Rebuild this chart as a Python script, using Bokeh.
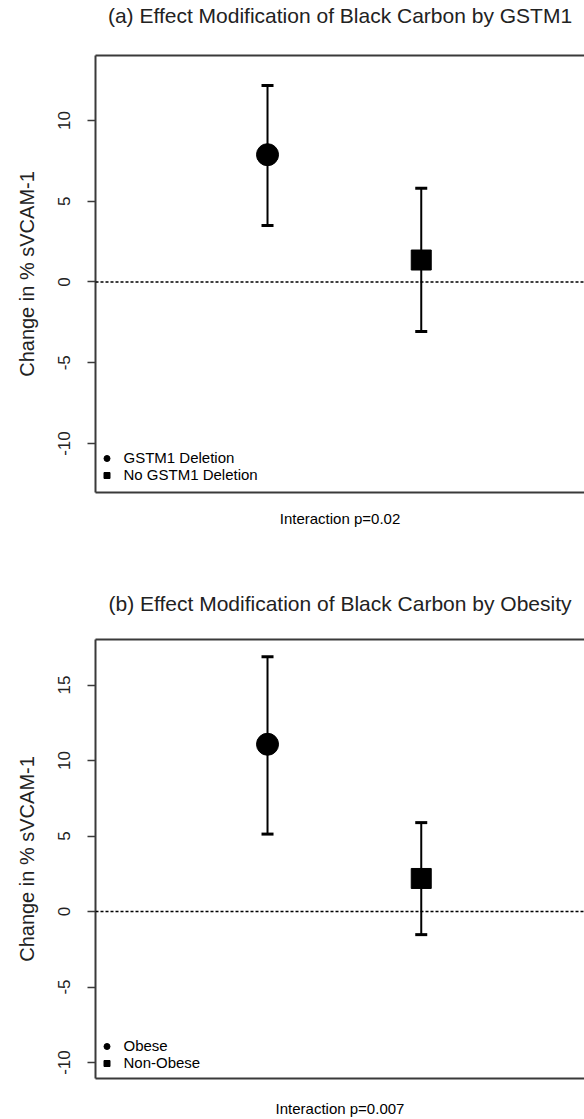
from bokeh.plotting import figure
from bokeh.models import (ColumnDataSource, Whisker, TeeHead, Span, LinearAxis,
                          FixedTicker, Range1d)
from bokeh.layouts import column
from bokeh.embed import file_html
from bokeh.resources import INLINE

# ---- data ----
xpos = [1, 2]
ylabel = "Change in % sVCAM-1"

title_a = "(a) Effect Modification of Black Carbon by GSTM1"
groups_a = ["GSTM1 Deletion", "No GSTM1 Deletion"]
est_a = [7.88, 1.36]
lower_a = [3.5, -3.07]
upper_a = [12.17, 5.81]
pval_a = "Interaction p=0.02"
yticks_a = [-10, -5, 0, 5, 10]

title_b = "(b) Effect Modification of Black Carbon by Obesity"
groups_b = ["Obese", "Non-Obese"]
est_b = [11.08, 2.19]
lower_b = [5.13, -1.53]
upper_b = [16.87, 5.89]
pval_b = "Interaction p=0.007"
yticks_b = [-10, -5, 0, 5, 10, 15]

# ---- styles ----
markers = ["circle", "square"]
msizes = [22, 20]
FONT = "Liberation Sans"
BOX = "#3a3a3a"
TXT = "#222222"


def make_panel(title, groups, est, lower, upper, pval, yticks, yr, height,
               top, bottom, title_gap, label_standoff, legend_y):
    p = figure(width=584, height=height,
               x_range=Range1d(-0.119, 3.062), y_range=Range1d(*yr),
               output_backend="svg", toolbar_location=None,
               x_axis_location=None, y_axis_location=None,
               min_border_left=95, min_border_right=0,
               min_border_top=top, min_border_bottom=bottom)
    p.outline_line_color = None
    p.outline_line_alpha = 0
    p.grid.visible = False
    p.background_fill_color = "white"
    p.border_fill_color = "white"

    yax = LinearAxis(ticker=FixedTicker(ticks=yticks), axis_label=ylabel)
    yax.major_label_overrides = {t: str(t) for t in yticks}
    yax.axis_line_color = BOX
    yax.axis_line_width = 2
    yax.major_tick_out = 8
    yax.major_tick_in = 0
    yax.major_tick_line_width = 1.5
    yax.major_tick_line_color = BOX
    yax.minor_tick_line_color = None
    yax.major_label_orientation = "vertical"
    yax.major_label_standoff = 17
    yax.major_label_text_font = FONT
    yax.major_label_text_font_size = "17px"
    yax.major_label_text_color = TXT
    yax.axis_label_standoff = 18
    yax.axis_label_text_font = FONT
    yax.axis_label_text_font_size = "20px"
    yax.axis_label_text_font_style = "normal"
    yax.axis_label_text_color = TXT
    p.add_layout(yax, "left")

    bax = LinearAxis(ticker=FixedTicker(ticks=[]), axis_label=pval)
    bax.axis_line_color = BOX
    bax.axis_line_width = 2
    bax.major_tick_out = 0
    bax.major_tick_in = 0
    bax.minor_tick_line_color = None
    bax.major_label_standoff = 0
    bax.axis_label_standoff = label_standoff
    bax.axis_label_text_font = FONT
    bax.axis_label_text_font_size = "15px"
    bax.axis_label_text_font_style = "normal"
    bax.axis_label_text_color = "black"
    p.add_layout(bax, "below")

    # top border of the box, carrying the panel title as its label
    tax = LinearAxis(ticker=FixedTicker(ticks=[]), axis_label=title)
    tax.axis_line_color = BOX
    tax.axis_line_width = 2
    tax.major_tick_out = 0
    tax.major_tick_in = 0
    tax.minor_tick_line_color = None
    tax.major_label_standoff = 0
    tax.axis_label_standoff = title_gap
    tax.axis_label_text_font = FONT
    tax.axis_label_text_font_size = "21px"
    tax.axis_label_text_font_style = "normal"
    tax.axis_label_text_color = TXT
    p.add_layout(tax, "above")

    p.add_layout(Span(location=0, dimension="width", line_color="black",
                      line_width=1.5, line_dash="3 2"))

    src = ColumnDataSource(dict(x=xpos, est=est, lower=lower, upper=upper))
    p.add_layout(Whisker(source=src, base="x", lower="lower", upper="upper",
                         dimension="height", line_width=2, line_color="black",
                         upper_head=TeeHead(size=12, line_width=3, line_color="black"),
                         lower_head=TeeHead(size=12, line_width=3, line_color="black")))

    for i in range(len(groups)):
        p.scatter(x=[xpos[i]], y=[est[i]], marker=markers[i], size=msizes[i],
                  color="black", legend_label=groups[i])

    lg = p.legend[0]
    lg.location = (3.5, legend_y)
    lg.border_line_color = None
    lg.background_fill_alpha = 0
    lg.padding = 4
    lg.spacing = 0
    lg.margin = 0
    lg.glyph_width = 15
    lg.glyph_height = 16
    lg.label_height = 16
    lg.label_standoff = 10
    lg.label_text_font = FONT
    lg.label_text_font_size = "15px"
    lg.label_text_color = "black"
    return p


pa = make_panel(title_a, groups_a, est_a, lower_a, upper_a, pval_a, yticks_a,
                (-13.03, 14.02), 585, 55, 93, 29, 17, 9)
pb = make_panel(title_b, groups_b, est_b, lower_b, upper_b, pval_b, yticks_b,
                (-11.06, 18.02), 534, 54, 41, 25, 21, 7)

layout = column(pa, pb, spacing=0)
open("out.html", "w").write(file_html(layout, INLINE))
